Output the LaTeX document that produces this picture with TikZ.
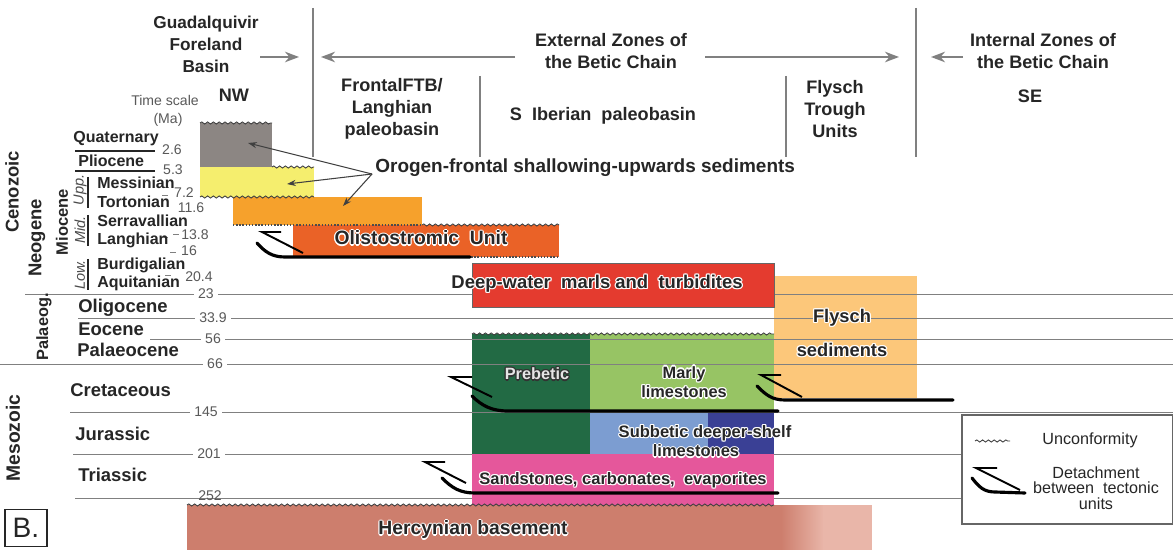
\documentclass[tikz,border=0pt]{standalone}
\usepackage{fontspec}
\setmainfont{Liberation Sans}
\usetikzlibrary{arrows.meta,decorations.pathmorphing}
\definecolor{cgray}{HTML}{8C8683}
\definecolor{cyel}{HTML}{F5EE6E}
\definecolor{corg}{HTML}{F6A12C}
\definecolor{coli}{HTML}{EA6227}
\definecolor{cred}{HTML}{E43B2F}
\definecolor{cfly}{HTML}{FCC77A}
\definecolor{cdg}{HTML}{226A44}
\definecolor{clg}{HTML}{97C464}
\definecolor{clb}{HTML}{7C9DD1}
\definecolor{cdb}{HTML}{3A4095}
\definecolor{cpink}{HTML}{E5579B}
\definecolor{cbase}{HTML}{CD7E6D}
\definecolor{cbasel}{HTML}{E9B6A9}
\definecolor{ctxt}{HTML}{262626}
\definecolor{cline}{HTML}{808080}
\newcommand\hlt[2][white]{{\setbox0=\hbox{#2}%
 \rlap{\color{#1}\kern0.7pt\copy0}%
 \rlap{\color{#1}\kern-0.7pt\copy0}%
 \rlap{\color{#1}\raise0.7pt\copy0}%
 \rlap{\color{#1}\lower0.7pt\copy0}%
 \rlap{\color{#1}\kern0.5pt\raise0.5pt\copy0}%
 \rlap{\color{#1}\kern-0.5pt\raise0.5pt\copy0}%
 \rlap{\color{#1}\kern0.5pt\lower0.5pt\copy0}%
 \rlap{\color{#1}\kern-0.5pt\lower0.5pt\copy0}%
 \copy0}}
\begin{document}
\begin{tikzpicture}[x=0.02cm,y=-0.02cm,
  hd/.style={font=\bfseries\fontsize{10.3}{12.5}\selectfont, text=ctxt, align=center, inner sep=0pt},
  era/.style={font=\bfseries\fontsize{10.5}{12}\selectfont, text=ctxt, anchor=west, inner sep=0pt},
  nera/.style={font=\bfseries\fontsize{9.1}{11}\selectfont, text=ctxt, anchor=west, inner sep=0pt},
  vt/.style={font=\bfseries\fontsize{10.5}{12}\selectfont, text=ctxt, rotate=90, inner sep=0pt},
  sub/.style={font=\itshape\fontsize{8.3}{9}\selectfont, text=black!70, rotate=90, inner sep=0pt},
  num/.style={font=\fontsize{8}{9}\selectfont, text=black!65, fill=white, inner xsep=2.5pt, inner ysep=0pt},
  numt/.style={font=\fontsize{8}{9}\selectfont, text=black!65, inner sep=0pt},
  bt/.style={font=\bfseries\fontsize{10.5}{12}\selectfont, text=ctxt, inner sep=0pt, align=center},
  lg/.style={font=\fontsize{9.2}{8.8}\selectfont, text=ctxt, inner sep=0pt, align=center},
  tl/.style={draw=cline, line width=0.45pt},
  hl/.style={draw=cline, line width=0.9pt},
  harr/.style={draw=cline, line width=1.1pt, -{Stealth[length=8pt,width=6pt]}},
  oarr/.style={draw=black!75, line width=0.6pt, -{Stealth[length=5pt,width=3.5pt]}},
  wavy/.style={draw=black!75, line width=0.5pt, decorate, decoration={snake, segment length=3.3pt, amplitude=0.6pt}},
  dots/.style={draw=black!70, line width=0.8pt, densely dotted},
  dthin/.style={draw=black, line width=1.1pt},
  dthick/.style={draw=black, line width=1.8pt, line cap=round},
  ul/.style={draw=ctxt, line width=0.6pt}]
\useasboundingbox (0,0) rectangle (1173,550);
\fill[white] (0,0) rectangle (1173,550);

% ---------- coloured units (below time lines)
\fill[cgray] (200,123) rectangle (272,167);
\fill[cyel] (200,167) rectangle (314,197);
\fill[corg] (233,197) rectangle (422,225);
\fill[coli] (293,225) rectangle (559,257);
\fill[cfly] (774,276) rectangle (917,398);
\fill[cdg] (472,334) rectangle (590,454);
\fill[clg] (590,334) rectangle (774,412);
\fill[clb] (590,412) rectangle (708,454);
\fill[cdb] (708,412) rectangle (774,454);

% ---------- time lines
\draw[tl] (25,294) -- (1173,294);
\draw[tl] (78,318) -- (1173,318);
\draw[tl] (150,339) -- (1173,339);
\draw[tl] (0,364) -- (1173,364);
\draw[tl] (70,412) -- (1173,412);
\draw[tl] (73,454) -- (1173,454);
\draw[tl] (75,498) -- (1173,498);

% ---------- units above the time lines
\fill[cred, draw=black!60, line width=0.4pt] (472,263) rectangle (774,307);
\fill[cpink] (472,454) rectangle (774,505);
\fill[cbase] (187,505) rectangle (782,550);
\shade[left color=cbase, right color=cbasel] (781,505) rectangle (824,550);
\fill[cbasel] (823,505) rectangle (872,550);

% ---------- unconformities and ragged contacts
\draw[wavy] (200,123) -- (272,123);
\draw[wavy] (272,167) -- (314,167);
\draw[wavy] (200,197) -- (314,197);
\draw[wavy] (422,225) -- (559,225);
\draw[wavy] (472,334) -- (774,334);
\draw[wavy] (187,505) -- (774,505);
\draw[dots] (233,225) -- (422,225);
\draw[dots] (468,257) -- (559,257);

% ---------- detachments
\draw[dthin] (281,232) -- (262,232) -- (303,253);
\draw[dthick] (257,243) .. controls (265,252) and (272,257) .. (285,257) -- (470,257);
\draw[dthin] (472,377) -- (451,377) -- (492,397);
\draw[dthick] (472,396) .. controls (482,406) and (492,411) .. (508,411) -- (778,411);
\draw[dthin] (445,462) -- (425,462) -- (466,483);
\draw[dthick] (442,478) .. controls (452,488) and (460,493) .. (475,493) -- (778,493);
\draw[dthin] (781,375) -- (761,375) -- (802,397);
\draw[dthick] (757,386) .. controls (766,395) and (772,400) .. (785,400) -- (953,400);

% ---------- time-line labels
\node[num] (n23) at (206,294) {23};
\node[num] (n339) at (213,318) {33.9};
\node[num] (n56) at (213,339) {56};
\node[num] (n66) at (215,364) {66};
\node[num] (n145) at (206,412) {145};
\node[num] (n201) at (209,454) {201};
\node[numt] (n252) at (210,496) {252};
\node[numt] (n26) at (172,150) {2.6};
\node[numt] (n53) at (173,170) {5.3};
\node[numt] (n72) at (184,193) {7.2};
\node[numt] (n116) at (191,208) {11.6};
\node[numt] (n138) at (195,235) {13.8};
\node[numt] (n16) at (189,251) {16};
\node[numt] (n204) at (199,277) {20.4};
\draw[tl] (163,187) -- (169,187);
\draw[tl] (162,195) -- (168,195);
\draw[tl] (173,234) -- (179,234);
\draw[tl] (162,237) -- (168,237);
\draw[tl] (170,252) -- (176,252);
\draw[tl] (165,275) -- (171,275);

% ---------- stratigraphic column names
\node[font=\fontsize{8}{9}\selectfont, text=black!65, inner sep=0pt] (ts) at (165,100) {Time scale};
\node[font=\fontsize{8}{9}\selectfont, text=black!65, inner sep=0pt] (ma) at (168,120) {(Ma)};
\node[nera] (qua) at (73,139) {Quaternary};
\draw[ul] (75,151) -- (155,151);
\node[nera] (pli) at (78,161) {Pliocene};
\draw[ul] (75,171) -- (155,171);
\node[nera] (mes) at (97,183) {Messinian};
\node[nera] (tor) at (97,202) {Tortonian};
\node[nera] (ser) at (97,221) {Serravallian};
\node[nera] (lan) at (97,240) {Langhian};
\node[nera] (bur) at (97,265) {Burdigalian};
\node[nera] (aqu) at (97,283) {Aquitanian};
\draw[ul] (88,177) -- (88,208);
\draw[ul] (88,215) -- (88,246);
\draw[ul] (88,259) -- (88,290);
\node[sub] (upp) at (80,190) {Upp.};
\node[sub] (mid) at (80,230) {Mid.};
\node[sub] (low) at (80,275) {Low.};
\node[vt, font=\bfseries\fontsize{9.4}{11}\selectfont] (mio) at (62,222) {Miocene};
\node[vt] (neo) at (37,238) {Neogene};
\node[vt] (ceno) at (12,192) {Cenozoic};
\node[vt, font=\bfseries\fontsize{9.3}{11}\selectfont] (pal) at (44,327) {Palaeog.};
\node[vt, font=\bfseries\fontsize{11}{12}\selectfont] (meso) at (13,438) {Mesozoic};
\node[era] (oli) at (78,308) {Oligocene};
\node[era] (eoc) at (78,329) {Eocene};
\node[era] (pac) at (77,350) {Palaeocene};
\node[era] (cre) at (70,390) {Cretaceous};
\node[era] (jur) at (75,434) {Jurassic};
\node[era] (tri) at (78,475) {Triassic};

% ---------- header
\node[hd, font=\bfseries\fontsize{9.8}{12.5}\selectfont] (guad) at (206,44) {Guadalquivir\\Foreland\\Basin};
\node[hd] (ext) at (611,51) {External Zones of\\the Betic Chain};
\node[hd] (int) at (1043,51) {Internal Zones of\\the Betic Chain};
\node[hd] (nw) at (234,95) {NW};
\node[hd] (se) at (1030,96) {SE};
\node[hd] (frontal) at (392,109) {FrontalFTB/\\Langhian\\paleobasin};
\node[hd] (sib) at (603,116) {S\ \ Iberian\ \ paleobasin};
\node[hd] (fty) at (835,109) {Flysch\\Trough\\Units};
\coordinate (v1t) at (313,8);  \coordinate (v1b) at (313,157);
\coordinate (v2t) at (916,8);  \coordinate (v2b) at (916,157);
\coordinate (v3t) at (480,76); \coordinate (v3b) at (480,157);
\coordinate (v4t) at (786,76); \coordinate (v4b) at (786,157);
\draw[hl] (v1t) -- (v1b);
\draw[hl] (v2t) -- (v2b);
\draw[hl] (v3t) -- (v3b);
\draw[hl] (v4t) -- (v4b);
\coordinate (a1s) at (260,57); \coordinate (a1e) at (299,57);
\coordinate (a2s) at (515,57); \coordinate (a2e) at (321,57);
\coordinate (a3s) at (705,57); \coordinate (a3e) at (899,57);
\coordinate (a4s) at (963,57); \coordinate (a4e) at (931,57);
\draw[harr] (a1s) -- (a1e);
\draw[harr] (a2s) -- (a2e);
\draw[harr] (a3s) -- (a3e);
\draw[harr] (a4s) -- (a4e);

% ---------- orogen-frontal label and arrows
\node[bt, anchor=west, font=\bfseries\fontsize{10.8}{12}\selectfont] (oro) at (375,168) {Orogen-frontal shallowing-upwards sediments};
\coordinate (og) at (372,174);
\coordinate (tq) at (248,143);
\coordinate (ty) at (287,184);
\coordinate (to) at (343,206);
\draw[oarr] (og) -- (tq);
\draw[oarr] (og) -- (ty);
\draw[oarr] (og) -- (to);

% ---------- unit labels
\node[bt, font=\bfseries\fontsize{11}{12}\selectfont] (olis) at (421,238) {\hlt{Olistostromic\ \ Unit}};
\node[bt] (deep) at (597,284) {\hlt{Deep-water\ \ marls and\ \ turbidites}};
\node[bt, font=\bfseries\fontsize{10.4}{12}\selectfont] (fly1) at (842,318) {\hlt{Flysch}};
\node[bt, font=\bfseries\fontsize{10.4}{12}\selectfont] (fly2) at (842,350) {\hlt{sediments}};
\node[bt, font=\bfseries\fontsize{9.3}{11}\selectfont, text=white!90!black] (preb) at (537,374) {\hlt[black!80]{Prebetic}};
\node[bt, font=\bfseries\fontsize{9.3}{11}\selectfont] (marly1) at (684,374) {\hlt{Marly}};
\node[bt, font=\bfseries\fontsize{9.3}{11}\selectfont] (marly2) at (684,392) {\hlt{limestones}};
\node[bt, font=\bfseries\fontsize{9.4}{11}\selectfont] (subb1) at (705,433) {\hlt{Subbetic deeper-shelf}};
\node[bt, font=\bfseries\fontsize{9.4}{11}\selectfont] (subb2) at (696,451) {\hlt{limestones}};
\node[bt, font=\bfseries\fontsize{9.4}{11}\selectfont] (sand) at (623,480) {\hlt{Sandstones, carbonates,\ \ evaporites}};
\node[bt, font=\bfseries\fontsize{11}{12}\selectfont] (herc) at (473,530) {\hlt{Hercynian basement}};

% ---------- legend
\draw[draw=black!60, fill=white, line width=0.7pt] (962,415) rectangle (1173,524);
\draw[wavy] (975,441) -- (1010,441);
\node[lg] (lunc) at (1090,440) {Unconformity};
\draw[dthin] (997,468) -- (976,468) -- (1020,490);
\draw[dthick] (972,478) .. controls (979,487) and (984,492) .. (995,492) -- (1025,493);
\node[lg] (ldet) at (1096,488) {Detachment\\between\ \ tectonic\\units};

% ---------- panel label
\node[draw=ctxt, line width=0.6pt, minimum width=0.84cm, minimum height=0.74cm, inner sep=0pt, font=\fontsize{16}{16}\selectfont, text=ctxt] (blab) at (26,528) {B.};
\end{tikzpicture}
\end{document}
